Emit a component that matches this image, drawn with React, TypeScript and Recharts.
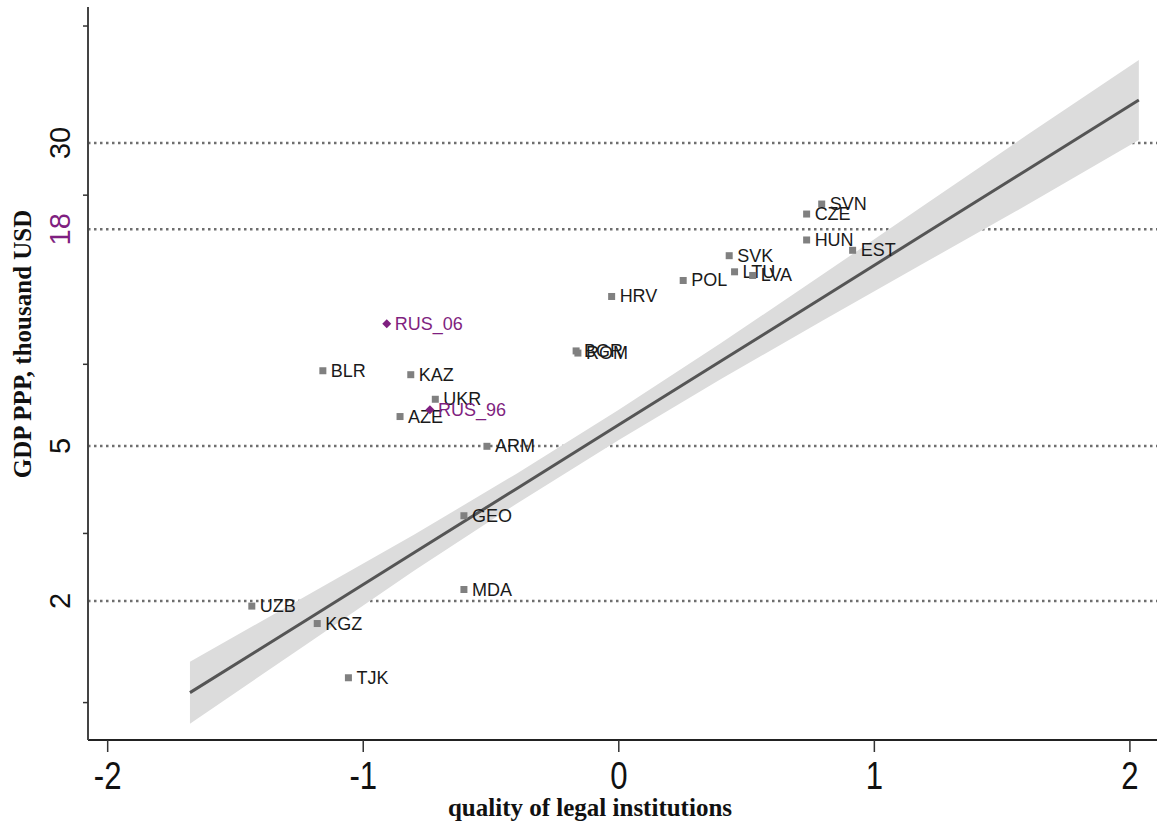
import React from 'react';
import { ComposedChart, XAxis, YAxis, Scatter, Line, Area, CartesianGrid } from 'recharts';

// ---- data ----
const countries = ['SVN', 'CZE', 'HUN', 'EST', 'SVK', 'LTU', 'LVA', 'POL', 'HRV', 'BGR', 'ROM', 'BLR', 'KAZ', 'UKR', 'AZE', 'ARM', 'GEO', 'MDA', 'UZB', 'KGZ', 'TJK'];
const legalQuality = [0.794, 0.735, 0.735, 0.915, 0.432, 0.453, 0.524, 0.252, -0.028, -0.167, -0.16, -1.158, -0.814, -0.718, -0.856, -0.516, -0.606, -0.606, -1.436, -1.18, -1.058];
const gdpPPP = [20.9, 19.7, 16.9, 15.9, 15.4, 14.0, 13.7, 13.3, 12.1, 8.77, 8.66, 7.8, 7.62, 6.59, 5.95, 4.99, 3.31, 2.14, 1.94, 1.75, 1.27];

const russiaLabels = ['RUS_06', 'RUS_96'];
const russiaQuality = [-0.908, -0.739];
const russiaGdp = [10.3, 6.19];

const fitX = [-1.678, -1.2, -0.8, -0.4, 0, 0.4, 0.8, 1.2, 1.6, 2.035];
const fitGdp = [1.163, 1.825, 2.663, 3.884, 5.665, 8.26, 12.05, 17.58, 25.63, 38.64];
const bandLow = [0.968, 1.584, 2.395, 3.553, 5.183, 7.43, 10.51, 14.81, 20.84, 30.5];
const bandHigh = [1.397, 2.102, 2.961, 4.245, 6.192, 9.19, 13.81, 20.87, 31.52, 48.96];

const xTicks = [-2, -1, 0, 1, 2];
const yLabelTicks = [2, 5, 18, 30];
const yHighlightTick = 18;
const yMinorTicks = [1.0966, 2.981, 8.1031, 22.0265, 59.8741];

const xTitle = 'quality of legal institutions';
const yTitle = 'GDP PPP, thousand USD';

// ---- derived tables ----
const fitData = fitX.map((x, i) => ({ x, fit: fitGdp[i], band: [bandLow[i], bandHigh[i]] }));
const countryPoints = countries.map((name, i) => ({ name, x: legalQuality[i], y: gdpPPP[i] }));
const russiaPoints = russiaLabels.map((name, i) => ({ name, x: russiaQuality[i], y: russiaGdp[i] }));

const PURPLE = '#7f1f80';
const SANS = '"Liberation Sans", Arial, Helvetica, sans-serif';
const SERIF = '"Liberation Serif", "Times New Roman", serif';

const SquarePoint = (props: any) => {
  const { cx, cy, payload } = props;
  if (cx == null || cy == null) return null;
  return (
    <g>
      <rect x={cx - 3.5} y={cy - 3.5} width={7} height={7} fill="#808080" />
      <text x={cx + 8} y={cy + 6} fontSize={18} fontFamily={SANS} fill="#1a1a1a">
        {payload.name}
      </text>
    </g>
  );
};

const RussiaPoint = (props: any) => {
  const { cx, cy, payload } = props;
  if (cx == null || cy == null) return null;
  return (
    <g>
      <path d={`M${cx},${cy - 4.5}L${cx + 4.5},${cy}L${cx},${cy + 4.5}L${cx - 4.5},${cy}Z`} fill={PURPLE} />
      <text x={cx + 8} y={cy + 6} fontSize={18} fontFamily={SANS} fill={PURPLE}>
        {payload.name}
      </text>
    </g>
  );
};

const XTick = (props: any) => {
  const { x, y, payload } = props;
  return (
    <g>
      <line x1={x} y1={y} x2={x} y2={y + 12} stroke="#333" strokeWidth={1.5} />
      <text
        transform={`translate(${x},${y + 49}) scale(0.82,1)`}
        textAnchor="middle"
        fontSize={38}
        fontFamily={SANS}
        fill="#111"
      >
        {payload.value}
      </text>
    </g>
  );
};

const YTick = (props: any) => {
  const { x, y, payload } = props;
  const v = payload.value;
  if (yLabelTicks.includes(v)) {
    return (
      <text
        transform={`translate(${x - 28},${y}) rotate(-90)`}
        textAnchor="middle"
        dominantBaseline="central"
        fontSize={29}
        fontFamily={SANS}
        fill={v === yHighlightTick ? PURPLE : '#111'}
      >
        {v}
      </text>
    );
  }
  return <line x1={x - 5} y1={y} x2={x} y2={y} stroke="#333" strokeWidth={1.5} />;
};

const XTitle = () => (
  <text x={590} y={816} textAnchor="middle" fontSize={25} fontWeight="bold" fontFamily={SERIF} fill="#111">
    {xTitle}
  </text>
);

const YTitle = () => (
  <text
    transform="translate(22,344) rotate(-90)"
    textAnchor="middle"
    dominantBaseline="central"
    fontSize={25}
    fontWeight="bold"
    fontFamily={SERIF}
    fill="#111"
  >
    {yTitle}
  </text>
);

export default function App() {
  return (
    <div style={{ position: 'absolute', left: 0, top: 0, background: '#fff' }}>
      <ComposedChart
        width={1163}
        height={828}
        data={fitData}
        margin={{ top: 7, right: 6, bottom: 28, left: 28 }}
      >
        <CartesianGrid
          vertical={false}
          horizontalValues={yLabelTicks}
          stroke="#6e6e6e"
          strokeWidth={2.5}
          strokeDasharray="2.5 3.5"
        />
        <XAxis
          dataKey="x"
          type="number"
          domain={[-2.077, 2.106]}
          allowDataOverflow
          ticks={xTicks}
          interval={0}
          height={60}
          tickSize={0}
          tickMargin={0}
          tickLine={false}
          axisLine={{ stroke: '#222', strokeWidth: 2 }}
          tick={<XTick />}
          label={<XTitle />}
        />
        <XAxis
          xAxisId="top"
          orientation="top"
          type="number"
          domain={[0, 1]}
          height={0}
          tick={false}
          tickLine={false}
          axisLine={{ stroke: '#777', strokeWidth: 2 }}
        />
        <YAxis
          type="number"
          scale="log"
          domain={[0.879, 67]}
          allowDataOverflow
          ticks={[...yMinorTicks, ...yLabelTicks].sort((a, b) => a - b)}
          interval={0}
          width={60}
          tickSize={0}
          tickMargin={0}
          tickLine={false}
          axisLine={{ stroke: '#444', strokeWidth: 2 }}
          tick={<YTick />}
          label={<YTitle />}
        />
        <YAxis
          yAxisId="right"
          orientation="right"
          type="number"
          domain={[0, 1]}
          width={0}
          tick={false}
          tickLine={false}
          axisLine={{ stroke: '#555', strokeWidth: 1.5 }}
        />
        <Area
          type="linear"
          dataKey="band"
          fill="#dcdcdc"
          fillOpacity={1}
          stroke="none"
          isAnimationActive={false}
        />
        <Line
          type="linear"
          dataKey="fit"
          stroke="#555"
          strokeWidth={3}
          dot={false}
          activeDot={false}
          isAnimationActive={false}
        />
        <Scatter data={countryPoints} dataKey="y" shape={<SquarePoint />} isAnimationActive={false} />
        <Scatter data={russiaPoints} dataKey="y" shape={<RussiaPoint />} isAnimationActive={false} />
      </ComposedChart>
    </div>
  );
}
